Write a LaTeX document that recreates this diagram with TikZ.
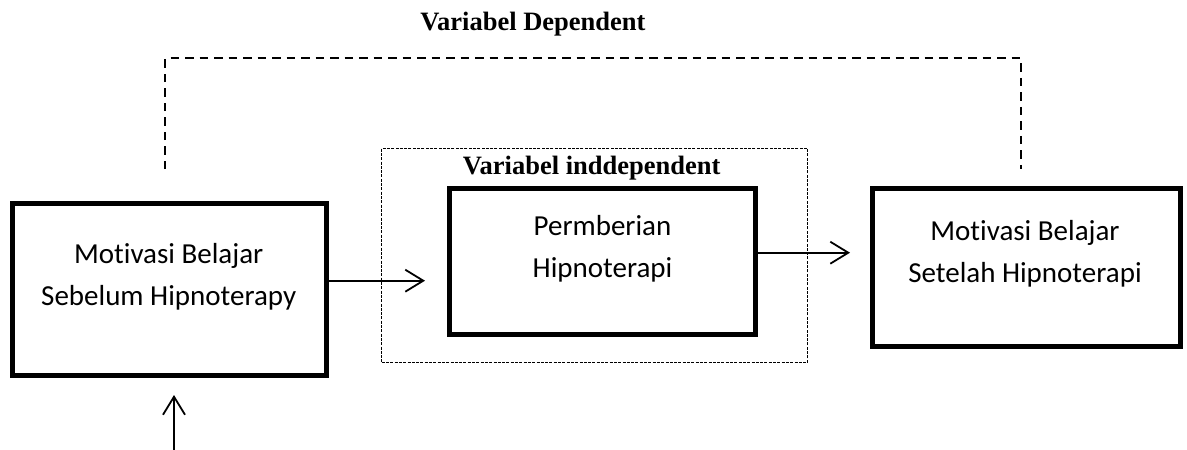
\documentclass[tikz,border=0pt]{standalone}
\usepackage{fontspec}
\setmainfont{Liberation Serif}
\newfontfamily\boxfont[Ligatures=NoCommon]{Carlito}
\usetikzlibrary{arrows.meta}
\begin{document}
\begin{tikzpicture}[x=1pt,y=-1pt,
  varbox/.style={draw, line width=4.7pt, rectangle, inner sep=0pt},
  boxtext/.style={align=center, anchor=base, inner sep=0pt,
    font=\boxfont\fontsize{29}{42}\selectfont},
  title/.style={anchor=base, inner sep=0pt,
    font=\bfseries\fontsize{26.5}{30}\selectfont},
  flow/.style={line width=1.8pt, -{Straight Barb[length=18pt,width=22pt]}},
  dep/.style={line width=2pt, dash pattern=on 8.5pt off 6pt},
  indep/.style={draw, line width=1pt, dash pattern=on 3pt off 1.3pt}]
\useasboundingbox (0,0) rectangle (1187,450);

% independent-variable frame
\node[indep, minimum width=426pt, minimum height=214pt, inner sep=0pt]
  (frame) at (594.7,255.3) {};
\node[title] (indeptitle) at (591.7,174.3) {Variabel inddependent};

% the three boxes
\node[varbox, minimum width=314.3pt, minimum height=172.3pt] (before) at (169.5,289.5) {};
\node[varbox, minimum width=306.3pt, minimum height=146.3pt] (treat) at (602.5,261.5) {};
\node[varbox, minimum width=308.3pt, minimum height=158.3pt] (after) at (1026.5,267.5) {};

% two-line labels, anchored on the baseline of their last line
\node[boxtext] (beforetext) at (168.7,305) {Motivasi Belajar\\Sebelum Hipnoterapy};
\node[boxtext] (treattext) at (602.5,277) {Permberian\\Hipnoterapi};
\node[boxtext] (aftertext) at (1025,282) {Motivasi Belajar\\Setelah Hipnoterapi};

% dependent-variable bracket
\node[title] (deptitle) at (533,30.7) {Variabel Dependent};
\coordinate (depL) at (165.3,169);
\coordinate (depR) at (1021,169);
\coordinate (deptop) at (600,58.3);
\draw[dep] (depL) -- (depL |- deptop) -| (depR);

% flow arrows
\coordinate (tipA) at (425,280.7);
\coordinate (tipB) at (850,252.7);
\draw[flow] (before.east |- tipA) -- (tipA);
\draw[flow] (treat.east |- tipB) -- (tipB);

\coordinate (upfoot) at (174,452);
\coordinate (uptip) at (174,395);
\draw[flow] (upfoot) -- (uptip);
\end{tikzpicture}
\end{document}
